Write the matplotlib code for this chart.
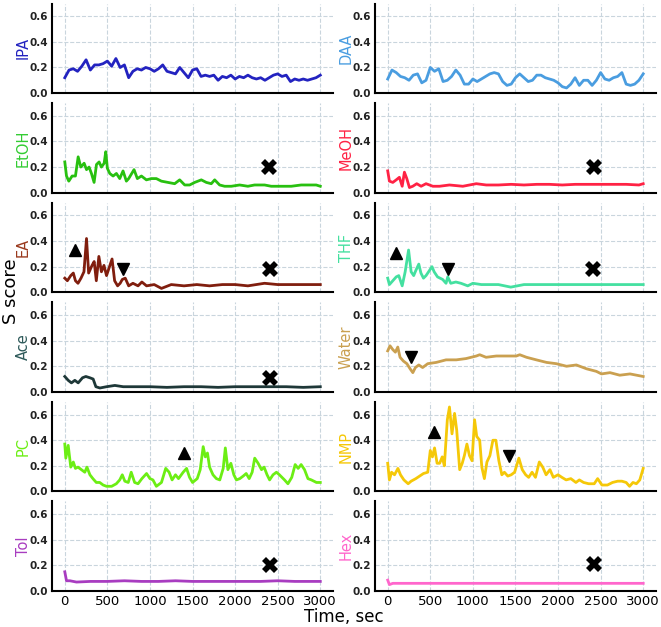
import numpy as np
import matplotlib
matplotlib.use("Agg")
import matplotlib.pyplot as plt

# Time grid (sec) used by the two densest traces
T50 = list(range(0, 3001, 50))

# S score traces
IPA_t = T50
IPA_s = [0.12, 0.18, 0.19, 0.17, 0.21, 0.26, 0.18, 0.22, 0.22, 0.23,
         0.25, 0.21, 0.27, 0.20, 0.22, 0.12, 0.17, 0.19, 0.18, 0.20,
         0.19, 0.17, 0.19, 0.22, 0.17, 0.16, 0.15, 0.20, 0.16, 0.12,
         0.18, 0.19, 0.13, 0.14, 0.13, 0.14, 0.10, 0.13, 0.12, 0.14,
         0.11, 0.13, 0.12, 0.14, 0.12, 0.11, 0.12, 0.10, 0.12, 0.14,
         0.15, 0.13, 0.14, 0.09, 0.11, 0.10, 0.11, 0.10, 0.11, 0.12, 0.14]

DAA_t = T50
DAA_s = [0.11, 0.18, 0.16, 0.13, 0.12, 0.10, 0.14, 0.15, 0.08, 0.10,
         0.20, 0.17, 0.19, 0.09, 0.10, 0.13, 0.18, 0.14, 0.07, 0.07,
         0.11, 0.09, 0.11, 0.13, 0.15, 0.16, 0.15, 0.09, 0.06, 0.07,
         0.12, 0.15, 0.12, 0.09, 0.10, 0.14, 0.14, 0.12, 0.11, 0.10,
         0.08, 0.05, 0.04, 0.07, 0.12, 0.06, 0.10, 0.10, 0.06, 0.10,
         0.16, 0.11, 0.10, 0.12, 0.13, 0.16, 0.07, 0.06, 0.07, 0.10, 0.15]

EtOH_t = [0, 20, 47, 86, 125, 157, 188, 227, 255, 285,
          313, 344, 372, 403, 430, 462, 481, 500, 528, 567,
          606, 645, 684, 723, 750, 813, 852, 900, 958, 1017,
          1075, 1134, 1212, 1290, 1349, 1408, 1466, 1525, 1603, 1662,
          1720, 1760, 1818, 1877, 1955, 2053, 2150, 2228, 2346, 2424,
          2542, 2659, 2776, 2893, 2952, 3000]
EtOH_s = [0.24, 0.13, 0.09, 0.13, 0.13, 0.28, 0.20, 0.23, 0.18, 0.20,
          0.15, 0.08, 0.22, 0.24, 0.20, 0.23, 0.32, 0.19, 0.15, 0.13,
          0.15, 0.11, 0.17, 0.09, 0.11, 0.18, 0.11, 0.13, 0.10, 0.11,
          0.11, 0.09, 0.08, 0.07, 0.10, 0.06, 0.06, 0.08, 0.10, 0.08,
          0.07, 0.10, 0.06, 0.05, 0.05, 0.06, 0.05, 0.06, 0.06, 0.05,
          0.05, 0.05, 0.06, 0.06, 0.06, 0.05]

MeOH_t = [0, 20, 60, 100, 137, 170, 196, 224, 255, 294,
          341, 392, 450, 530, 608, 725, 882, 1040, 1157, 1300,
          1450, 1600, 1750, 1900, 2050, 2200, 2350, 2500, 2650, 2800,
          2950, 3000]
MeOH_s = [0.17, 0.09, 0.08, 0.10, 0.12, 0.05, 0.16, 0.11, 0.04, 0.05,
          0.07, 0.05, 0.07, 0.05, 0.05, 0.06, 0.05, 0.07, 0.06, 0.06,
          0.065, 0.06, 0.065, 0.065, 0.06, 0.065, 0.065, 0.065, 0.065, 0.065,
          0.06, 0.07]

EA_t = [0, 30, 70, 100, 125, 155, 190, 225, 255, 280,
        320, 345, 370, 400, 430, 460, 490, 520, 555, 585,
        620, 650, 675, 710, 750, 800, 860, 905, 960, 1050,
        1135, 1250, 1400, 1550, 1700, 1850, 2000, 2150, 2345, 2500,
        2650, 2800, 3000]
EA_s = [0.11, 0.09, 0.13, 0.15, 0.09, 0.07, 0.11, 0.16, 0.42, 0.15,
        0.21, 0.24, 0.09, 0.28, 0.16, 0.21, 0.13, 0.19, 0.26, 0.09,
        0.05, 0.07, 0.10, 0.11, 0.05, 0.07, 0.05, 0.08, 0.05, 0.06,
        0.03, 0.06, 0.05, 0.06, 0.05, 0.06, 0.06, 0.05, 0.07, 0.06,
        0.06, 0.06, 0.06]

THF_t = [0, 20, 60, 100, 130, 170, 205, 245, 275, 305,
         330, 365, 390, 420, 450, 490, 520, 545, 585, 645,
         685, 705, 740, 800, 860, 940, 1000, 1100, 1200, 1300,
         1445, 1600, 1800, 2000, 2200, 2400, 2600, 2800, 3000]
THF_s = [0.11, 0.06, 0.09, 0.12, 0.13, 0.05, 0.16, 0.33, 0.16, 0.13,
         0.17, 0.22, 0.15, 0.11, 0.13, 0.17, 0.20, 0.16, 0.12, 0.10,
         0.07, 0.12, 0.07, 0.08, 0.07, 0.05, 0.07, 0.06, 0.06, 0.06,
         0.04, 0.06, 0.06, 0.06, 0.06, 0.06, 0.06, 0.06, 0.06]

Ace_t = [0, 40, 78, 118, 157, 208, 247, 294, 333, 365,
         412, 490, 588, 686, 800, 1000, 1200, 1400, 1600, 1800,
         2000, 2200, 2400, 2600, 2800, 3000]
Ace_s = [0.12, 0.09, 0.07, 0.09, 0.07, 0.11, 0.12, 0.11, 0.10, 0.04,
         0.03, 0.04, 0.05, 0.04, 0.04, 0.04, 0.035, 0.04, 0.04, 0.035,
         0.04, 0.04, 0.04, 0.04, 0.035, 0.04]

Water_t = [0, 27, 60, 90, 118, 145, 185, 225, 263, 295,
           325, 365, 410, 470, 570, 685, 805, 920, 1040, 1080,
           1155, 1275, 1390, 1510, 1550, 1630, 1745, 1865, 1980, 2100,
           2215, 2335, 2450, 2510, 2610, 2725, 2845, 3000]
Water_s = [0.32, 0.36, 0.33, 0.31, 0.35, 0.27, 0.24, 0.22, 0.18, 0.15,
           0.19, 0.21, 0.19, 0.22, 0.23, 0.25, 0.25, 0.26, 0.28, 0.29,
           0.27, 0.28, 0.28, 0.28, 0.29, 0.27, 0.25, 0.23, 0.22, 0.20,
           0.21, 0.18, 0.16, 0.14, 0.15, 0.13, 0.14, 0.12]

PC_t = [0, 12, 40, 70, 100, 125, 155, 195, 235, 260,
        295, 330, 370, 410, 450, 490, 550, 605, 645, 675,
        705, 745, 780, 820, 860, 905, 960, 1000, 1035, 1075,
        1135, 1185, 1225, 1260, 1300, 1335, 1390, 1430, 1465, 1500,
        1555, 1590, 1625, 1650, 1675, 1700, 1740, 1780, 1820, 1860,
        1885, 1915, 1950, 1985, 2015, 2055, 2095, 2130, 2165, 2200,
        2230, 2270, 2310, 2340, 2375, 2405, 2445, 2485, 2520, 2580,
        2620, 2665, 2705, 2740, 2775, 2815, 2855, 2895, 2955, 3000]
PC_s = [0.37, 0.26, 0.36, 0.19, 0.23, 0.18, 0.19, 0.17, 0.15, 0.19,
        0.13, 0.10, 0.07, 0.07, 0.05, 0.04, 0.04, 0.06, 0.09, 0.13,
        0.08, 0.07, 0.15, 0.07, 0.06, 0.10, 0.14, 0.10, 0.09, 0.04,
        0.07, 0.18, 0.15, 0.09, 0.13, 0.10, 0.15, 0.18, 0.11, 0.07,
        0.10, 0.17, 0.35, 0.27, 0.30, 0.19, 0.13, 0.10, 0.09, 0.18,
        0.34, 0.17, 0.22, 0.13, 0.09, 0.10, 0.12, 0.14, 0.10, 0.15,
        0.26, 0.22, 0.17, 0.19, 0.13, 0.09, 0.13, 0.15, 0.13, 0.09,
        0.06, 0.11, 0.21, 0.18, 0.21, 0.17, 0.10, 0.09, 0.07, 0.07]

NMP_t = [0, 20, 45, 80, 120, 150, 190, 240, 275, 330,
         375, 420, 470, 500, 525, 550, 580, 610, 640, 665,
         700, 725, 755, 785, 810, 845, 875, 900, 930, 960,
         990, 1020, 1045, 1080, 1105, 1135, 1165, 1200, 1235, 1270,
         1305, 1340, 1370, 1410, 1450, 1490, 1540, 1580, 1620, 1655,
         1695, 1735, 1780, 1820, 1860, 1905, 1945, 2000, 2045, 2095,
         2150, 2210, 2250, 2300, 2360, 2425, 2465, 2515, 2580, 2640,
         2700, 2750, 2800, 2840, 2880, 2920, 2960, 3000]
NMP_s = [0.22, 0.09, 0.15, 0.13, 0.18, 0.13, 0.09, 0.06, 0.08, 0.10,
         0.12, 0.14, 0.15, 0.32, 0.27, 0.34, 0.22, 0.22, 0.27, 0.20,
         0.56, 0.66, 0.45, 0.61, 0.48, 0.17, 0.22, 0.28, 0.37, 0.28,
         0.24, 0.56, 0.43, 0.40, 0.19, 0.10, 0.23, 0.28, 0.40, 0.40,
         0.24, 0.13, 0.15, 0.12, 0.13, 0.15, 0.26, 0.17, 0.13, 0.11,
         0.15, 0.11, 0.23, 0.19, 0.13, 0.17, 0.11, 0.13, 0.11, 0.09,
         0.10, 0.07, 0.09, 0.07, 0.06, 0.06, 0.10, 0.05, 0.05, 0.07,
         0.08, 0.08, 0.07, 0.04, 0.07, 0.06, 0.09, 0.18]

Tol_t = [0, 20, 60, 137, 300, 500, 700, 900, 1100, 1300,
         1500, 1700, 1900, 2100, 2300, 2500, 2700, 2900, 3000]
Tol_s = [0.15, 0.08, 0.08, 0.07, 0.075, 0.075, 0.08, 0.075, 0.075, 0.08,
         0.075, 0.075, 0.075, 0.075, 0.075, 0.08, 0.075, 0.075, 0.075]

Hex_t = [0, 20, 60, 200, 400, 600, 800, 1000, 1200, 1400,
         1600, 1800, 2000, 2200, 2400, 2600, 2800, 3000]
Hex_s = [0.085, 0.05, 0.06, 0.06, 0.06, 0.06, 0.06, 0.06, 0.06, 0.06,
         0.06, 0.06, 0.06, 0.06, 0.06, 0.06, 0.06, 0.06]

# Annotation markers: (time, S score)
UP = {"EA": (118, 0.33), "THF": (98, 0.305), "PC": (1395, 0.30), "NMP": (540, 0.465)}
DOWN = {"EA": (684, 0.18), "THF": (703, 0.18), "Water": (275, 0.27), "NMP": (1423, 0.275)}
CROSS = {"EtOH": (2400, 0.20), "MeOH": (2420, 0.20), "EA": (2405, 0.18),
         "THF": (2414, 0.18), "Ace": (2404, 0.11), "Tol": (2404, 0.20),
         "Hex": (2420, 0.21)}

# panel layout: left column, right column
left = [("IPA", IPA_t, IPA_s, "#2323c0"),
        ("EtOH", EtOH_t, EtOH_s, "#28c010"),
        ("EA", EA_t, EA_s, "#801e0e"),
        ("Ace", Ace_t, Ace_s, "#1e3838"),
        ("PC", PC_t, PC_s, "#6cee14"),
        ("Tol", Tol_t, Tol_s, "#a83cc0")]
right = [("DAA", DAA_t, DAA_s, "#4a9de0"),
         ("MeOH", MeOH_t, MeOH_s, "#ff2244"),
         ("THF", THF_t, THF_s, "#44e0a0"),
         ("Water", Water_t, Water_s, "#caa050"),
         ("NMP", NMP_t, NMP_s, "#f5c808"),
         ("Hex", Hex_t, Hex_s, "#ff66cc")]

label_colors = {"EA": "#9a3a1e", "Ace": "#2e5a5a", "EtOH": "#33cc33"}

# y tick labels are shown on both columns, so y is not shared
fig, axes = plt.subplots(6, 2, figsize=(6.61, 6.27), dpi=100, sharex=True)
fig.subplots_adjust(left=0.0787, right=0.9924, top=0.9944, bottom=0.0574,
                    wspace=0.149, hspace=0.112)

for col, panels in enumerate([left, right]):
    for row, (name, t, s, color) in enumerate(panels):
        ax = axes[row, col]
        ax.plot(t, s, color=color, lw=2, zorder=3)

        if name in UP:
            ax.plot(*UP[name], marker="^", color="black", ms=8, zorder=4)
        if name in DOWN:
            ax.plot(*DOWN[name], marker="v", color="black", ms=8, zorder=4)
        if name in CROSS:
            ax.plot(*CROSS[name], marker="X", color="black", ms=11, mew=0, zorder=4)

        ax.set_ylabel(name, color=label_colors.get(name, color), fontsize=10.5)
        ax.yaxis.set_label_coords(-0.076, 0.5)
        ax.set_xlim(-150, 3150)
        ax.set_ylim(0, 0.7)
        ax.set_yticks([0.0, 0.2, 0.4, 0.6])
        ax.set_xticks([0, 500, 1000, 1500, 2000, 2500, 3000])
        ax.grid(True, ls="--", color="#c9d5dd", lw=0.8)
        ax.set_axisbelow(True)

        ax.spines["top"].set_visible(False)
        ax.spines["right"].set_visible(False)
        ax.spines["left"].set_linewidth(1.5)
        ax.spines["bottom"].set_linewidth(1.5)
        ax.tick_params(axis="both", length=0, pad=3)
        ax.tick_params(axis="x", labelsize=9.5)
        for lab in ax.get_yticklabels():
            lab.set_fontsize(7.5)
            lab.set_fontweight("bold")
            lab.set_color("#222222")

fig.text(0.017, 0.535, "S score", rotation=90, fontsize=13, va="center", ha="center")
fig.text(0.52, 0.016, "Time, sec", fontsize=12, va="center", ha="center")

plt.savefig("out.png", dpi=100)
